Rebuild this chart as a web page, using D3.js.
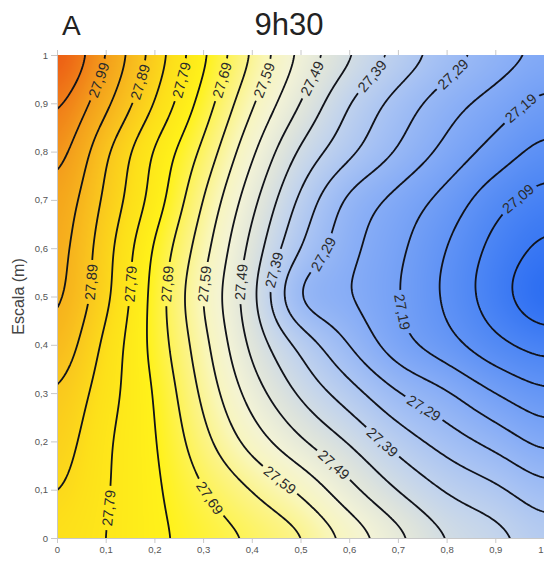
<!DOCTYPE html>
<html>
<head>
<meta charset="utf-8">
<script src="https://cdn.jsdelivr.net/npm/d3@7"></script>
<style>
  html, body { margin: 0; padding: 0; background: #fff; }
  svg { display: block; }
</style>
</head>
<body>
<svg id="chart" width="544" height="562"></svg>
<script>
// Grid node positions (m): columns left to right, rows top to bottom
const gridX = [0, 0.1, 0.2, 0.3, 0.4, 0.5, 0.6, 0.7, 0.8, 0.9, 1];
const gridY = [1, 0.9, 0.8, 0.7, 0.6, 0.5, 0.4, 0.3, 0.2, 0.1, 0];

// Temperature (°C) at each grid node, one row per height
const temp = [
  [28.100, 27.990, 27.870, 27.750, 27.635, 27.529, 27.446, 27.375, 27.314, 27.267, 27.228],
  [28.050, 27.952, 27.838, 27.719, 27.597, 27.489, 27.392, 27.321, 27.263, 27.219, 27.177],
  [28.010, 27.900, 27.786, 27.678, 27.550, 27.432, 27.352, 27.285, 27.225, 27.170, 27.125],
  [27.975, 27.879, 27.768, 27.640, 27.507, 27.380, 27.280, 27.225, 27.172, 27.110, 27.070],
  [27.960, 27.860, 27.735, 27.610, 27.474, 27.340, 27.255, 27.201, 27.140, 27.075, 27.030],
  [27.950, 27.852, 27.722, 27.590, 27.456, 27.288, 27.243, 27.193, 27.131, 27.063, 27.005],
  [27.925, 27.827, 27.724, 27.607, 27.478, 27.375, 27.289, 27.212, 27.160, 27.105, 27.070],
  [27.888, 27.811, 27.737, 27.629, 27.518, 27.432, 27.362, 27.293, 27.245, 27.190, 27.150],
  [27.865, 27.798, 27.744, 27.657, 27.570, 27.497, 27.435, 27.369, 27.317, 27.272, 27.226],
  [27.843, 27.794, 27.749, 27.692, 27.638, 27.580, 27.505, 27.438, 27.385, 27.350, 27.307],
  [27.820, 27.790, 27.752, 27.717, 27.683, 27.644, 27.573, 27.504, 27.440, 27.406, 27.365]
];

// Isotherm levels; every other one carries a label
const levels = [27.04, 27.09, 27.14, 27.19, 27.24, 27.29, 27.34, 27.39, 27.44, 27.49,
                27.54, 27.59, 27.64, 27.69, 27.74, 27.79, 27.84, 27.89, 27.94, 27.99, 28.04];

// Axis ticks
const xTicks = [0, 0.1, 0.2, 0.3, 0.4, 0.5, 0.6, 0.7, 0.8, 0.9, 1];
const yTicks = [0, 0.1, 0.2, 0.3, 0.4, 0.5, 0.6, 0.7, 0.8, 0.9, 1];

// Where the inline isotherm labels sit: level and approximate (x, y) in metres
const labelLevel = [27.99, 27.89, 27.79, 27.69, 27.59, 27.49, 27.39, 27.29, 27.19, 27.09,
                    27.89, 27.79, 27.69, 27.59, 27.49, 27.39, 27.29, 27.19,
                    27.29, 27.39, 27.49, 27.59, 27.69, 27.79];
const labelX = [0.080, 0.164, 0.253, 0.339, 0.425, 0.530, 0.649, 0.813, 0.953, 0.953,
                0.072, 0.156, 0.232, 0.308, 0.378, 0.456, 0.546, 0.721,
                0.749, 0.669, 0.571, 0.462, 0.310, 0.105];
const labelY = [0.952, 0.948, 0.948, 0.948, 0.948, 0.948, 0.954, 0.961, 0.890, 0.694,
                0.528, 0.524, 0.524, 0.524, 0.528, 0.551, 0.590, 0.472,
                0.265, 0.199, 0.155, 0.126, 0.083, 0.064];

// Colour ramp for the temperature field
const rampStops  = [27.00, 27.08, 27.16, 27.24, 27.32, 27.40, 27.47, 27.54, 27.60, 27.66, 27.74, 27.82, 27.90, 27.98, 28.10];
const rampColors = ['#2a6cf2', '#4a84f4', '#6898f5', '#86acf6', '#a4c0f4', '#c3d4ec', '#dde3dc', '#f3f3d6',
                    '#f9f6b8', '#fcf37a', '#fff21a', '#fde01a', '#f9c31e', '#f4a21c', '#ec5a14'];

const FONT = "'Liberation Sans', Arial, Helvetica, sans-serif";
const X0 = 57, X1 = 544, Y0 = 55, Y1 = 538;
const W = X1 - X0, H = Y1 - Y0;

const x = d3.scaleLinear().domain([0, 1]).range([X0, X1]);
const y = d3.scaleLinear().domain([0, 1]).range([Y1, Y0]);
const color = d3.scaleLinear().domain(rampStops).range(rampColors)
  .interpolate(d3.interpolateRgb).clamp(true);

// Smooth (Catmull-Rom bicubic) reading of the grid between nodes
const colOf = d3.scaleLinear().domain([gridX[0], gridX[gridX.length - 1]]).range([0, gridX.length - 1]).clamp(true);
const rowOf = d3.scaleLinear().domain([gridY[0], gridY[gridY.length - 1]]).range([0, gridY.length - 1]).clamp(true);
function node(r, c) {
  r = Math.max(0, Math.min(temp.length - 1, r));
  c = Math.max(0, Math.min(temp[0].length - 1, c));
  return temp[r][c];
}
function catmull(p0, p1, p2, p3, t) {
  return p1 + 0.5 * t * ((p2 - p0) + t * ((2 * p0 - 5 * p1 + 4 * p2 - p3) + t * (3 * (p1 - p2) + p3 - p0)));
}
function field(xv, yv) {
  const gc = colOf(xv), gr = rowOf(yv);
  const c = Math.min(Math.floor(gc), gridX.length - 2);
  const r = Math.min(Math.floor(gr), gridY.length - 2);
  const tc = gc - c, tr = gr - r;
  const rows = [-1, 0, 1, 2].map(dr =>
    catmull(node(r + dr, c - 1), node(r + dr, c), node(r + dr, c + 1), node(r + dr, c + 2), tc));
  return catmull(rows[0], rows[1], rows[2], rows[3], tr);
}

// Fine sampling of the field (2 px cells, padded past the frame)
const step = 2, pad = 30;
const ox = X0 - pad, oy = Y0 - pad;
const nx = Math.ceil((W + 2 * pad) / step), ny = Math.ceil((H + 2 * pad) / step);
let samples = new Float64Array(nx * ny);
for (let j = 0; j < ny; j++) {
  const yv = Math.max(0, Math.min(1, y.invert(oy + (j + 0.5) * step)));
  for (let i = 0; i < nx; i++) {
    const xv = Math.max(0, Math.min(1, x.invert(ox + (i + 0.5) * step)));
    samples[j * nx + i] = field(xv, yv);
  }
}
// separable box smoothing (three passes) to even out the interpolation
function boxPass(src, w, h, r, horizontal) {
  const out = new Float64Array(src.length);
  const len = horizontal ? w : h, lines = horizontal ? h : w;
  for (let l = 0; l < lines; l++) {
    const idx = k => horizontal ? l * w + Math.max(0, Math.min(w - 1, k)) : Math.max(0, Math.min(h - 1, k)) * w + l;
    let acc = 0;
    for (let k = -r; k <= r; k++) acc += src[idx(k)];
    for (let k = 0; k < len; k++) {
      out[idx(k)] = acc / (2 * r + 1);
      acc += src[idx(k + r + 1)] - src[idx(k - r)];
    }
  }
  return out;
}
for (let p = 0; p < 3; p++) {
  samples = boxPass(samples, nx, ny, 4, true);
  samples = boxPass(samples, nx, ny, 4, false);
}
function sampleAt(px, py) {
  const fi = (px - ox) / step - 0.5, fj = (py - oy) / step - 0.5;
  const i = Math.max(0, Math.min(nx - 2, Math.floor(fi))), j = Math.max(0, Math.min(ny - 2, Math.floor(fj)));
  const ti = fi - i, tj = fj - j;
  const a = samples[j * nx + i], b = samples[j * nx + i + 1];
  const c = samples[(j + 1) * nx + i], d = samples[(j + 1) * nx + i + 1];
  return (a * (1 - ti) + b * ti) * (1 - tj) + (c * (1 - ti) + d * ti) * tj;
}

const svg = d3.select('#chart');
const defs = svg.append('defs');
defs.append('clipPath').attr('id', 'plotClip')
  .append('rect').attr('x', X0).attr('y', Y0).attr('width', W).attr('height', H);

// ---- continuous colour field ----
const lutMin = 26.9, lutMax = 28.2, lutN = 2048;
const lut = d3.range(lutN).map(i => d3.rgb(color(lutMin + (lutMax - lutMin) * i / (lutN - 1))));
const canvas = document.createElement('canvas');
canvas.width = W; canvas.height = H;
const ctx = canvas.getContext('2d');
const img = ctx.createImageData(W, H);
for (let j = 0; j < H; j++) {
  for (let i = 0; i < W; i++) {
    const v = sampleAt(X0 + i + 0.5, Y0 + j + 0.5);
    const k = Math.max(0, Math.min(lutN - 1, Math.round((v - lutMin) / (lutMax - lutMin) * (lutN - 1))));
    const c = lut[k], o = (j * W + i) * 4;
    img.data[o] = c.r; img.data[o + 1] = c.g; img.data[o + 2] = c.b; img.data[o + 3] = 255;
  }
}
ctx.putImageData(img, 0, 0);
svg.append('image')
  .attr('x', X0).attr('y', Y0).attr('width', W).attr('height', H)
  .attr('preserveAspectRatio', 'none')
  .attr('href', canvas.toDataURL());

// ---- isotherms ----
const isos = d3.contours().size([nx, ny]).thresholds(levels)(samples);
const toPx = p => [ox + p[0] * step, oy + p[1] * step];
const path = d3.geoPath(d3.geoTransform({
  point(px, py) { const q = toPx([px, py]); this.stream.point(q[0], q[1]); }
}));

const linesG = svg.append('g').attr('clip-path', 'url(#plotClip)');
const labelsG = svg.append('g').attr('clip-path', 'url(#plotClip)');

// Label placement: snap each label to its isotherm and follow its direction
const fmt = v => v.toFixed(2).replace('.', ',');
const mask = defs.append('mask').attr('id', 'labelGaps')
  .attr('maskUnits', 'userSpaceOnUse')
  .attr('x', 0).attr('y', 0).attr('width', 544).attr('height', 562);
mask.append('rect').attr('x', 0).attr('y', 0).attr('width', 544).attr('height', 562).attr('fill', '#fff');

labelLevel.forEach((lv, idx) => {
  const iso = isos.find(c => Math.abs(c.value - lv) < 1e-6);
  if (!iso) return;
  const ax = x(labelX[idx]), ay = y(labelY[idx]);
  let best = null, bestD = Infinity;
  iso.coordinates.forEach(poly => poly.forEach(ring => {
    const pts = ring.map(toPx);
    pts.forEach((p, k) => {
      if (p[0] < X0 + 2 || p[0] > X1 - 2 || p[1] < Y0 + 2 || p[1] > Y1 - 2) return;
      const d = (p[0] - ax) ** 2 + (p[1] - ay) ** 2;
      if (d < bestD) { bestD = d; best = { pts, k }; }
    });
  }));
  if (!best) return;
  const n = best.pts.length, k = best.k;
  const p = best.pts[k];
  const a = best.pts[(k - 5 + n) % n], b = best.pts[(k + 5) % n];
  let ang = Math.atan2(b[1] - a[1], b[0] - a[0]) * 180 / Math.PI;
  if (ang > 90) ang -= 180;
  if (ang <= -90) ang += 180;
  const t = labelsG.append('text')
    .attr('transform', `translate(${p[0]},${p[1]}) rotate(${ang})`)
    .attr('text-anchor', 'middle')
    .attr('dy', '0.36em')
    .attr('font-family', FONT)
    .attr('font-size', 14.5)
    .attr('fill', '#2b2b2b')
    .text(fmt(lv));
  const len = t.node().getComputedTextLength();
  mask.append('rect')
    .attr('transform', `translate(${p[0]},${p[1]}) rotate(${ang})`)
    .attr('x', -len / 2 - 4).attr('y', -6)
    .attr('width', len + 8).attr('height', 12)
    .attr('fill', '#000');
});

linesG.append('g')
  .attr('mask', 'url(#labelGaps)')
  .selectAll('path')
  .data(isos)
  .join('path')
  .attr('d', path)
  .attr('fill', 'none')
  .attr('stroke', '#11131a')
  .attr('stroke-width', 1.8)
  .attr('stroke-linejoin', 'round');

// ---- axes ----
const tickFmt = d => (+d.toFixed(1)).toString().replace('.', ',');
function styleAxis(g) {
  g.selectAll('.domain').attr('stroke', '#c8c8c8');
  g.selectAll('.tick line').attr('stroke', '#c8c8c8');
  g.selectAll('.tick text').attr('fill', '#555').attr('font-family', FONT).attr('font-size', 9.5);
}
svg.append('g').attr('transform', `translate(0,${Y1})`)
  .call(d3.axisBottom(x).tickValues(xTicks).tickFormat(tickFmt).tickSize(5).tickPadding(3))
  .call(styleAxis)
  .call(g => g.selectAll('.tick text').filter(d => d === 1).attr('text-anchor', 'end').attr('x', -1));
svg.append('g').attr('transform', `translate(${X0},0)`)
  .call(d3.axisLeft(y).tickValues(yTicks).tickFormat(tickFmt).tickSize(6).tickPadding(3))
  .call(styleAxis);
svg.append('g').attr('transform', `translate(0,${Y0})`)
  .call(d3.axisTop(x).tickValues(xTicks).tickFormat('').tickSize(5))
  .call(g => g.select('.domain').remove())
  .call(styleAxis);

// ---- titles ----
svg.append('text')
  .attr('x', 289).attr('y', 35)
  .attr('text-anchor', 'middle')
  .attr('font-family', FONT).attr('font-size', 31).attr('fill', '#222')
  .text('9h30');
svg.append('text')
  .attr('x', 62).attr('y', 35)
  .attr('font-family', FONT).attr('font-size', 28).attr('fill', '#222')
  .text('A');
svg.append('text')
  .attr('transform', `translate(24,${y(0.5)}) rotate(-90)`)
  .attr('text-anchor', 'middle')
  .attr('font-family', FONT).attr('font-size', 16).attr('fill', '#444')
  .text('Escala (m)');
</script>
</body>
</html>
